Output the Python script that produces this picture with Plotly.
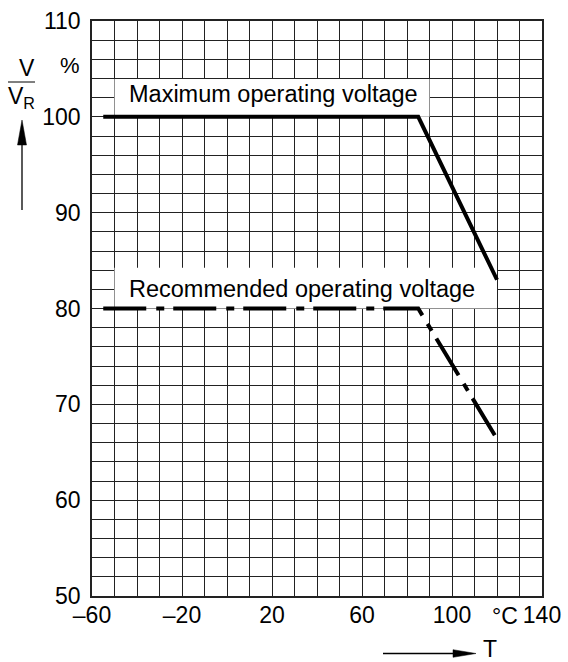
import plotly.graph_objects as go

# Data
temps = [-55, 85, 120]
max_voltage = [100, 100, 83]
rec_voltage = [80, 80, 66.4]

x_grid = list(range(-60, 141, 10))
x_labels = {-60: "–60", -20: "–20", 20: "20", 60: "60", 100: "100", 140: "140"}
y_grid = list(range(50, 111, 2))
y_labels = {50: "50", 60: "60", 70: "70", 80: "80", 90: "90", 100: "100", 110: "110"}

FONT = "Liberation Sans, Arial, sans-serif"

# plot area in page pixels
W, H = 568, 662
PL, PR, PT, PB = 92, 542, 21, 596
PW, PH = PR - PL, PB - PT


def px(x):
    return (x - PL) / PW


def py(y):
    return (PB - y) / PH


fig = go.Figure()
fig.add_trace(go.Scatter(x=temps, y=max_voltage, mode="lines",
                         line=dict(color="black", width=4), showlegend=False,
                         hoverinfo="skip"))
fig.add_trace(go.Scatter(x=temps, y=rec_voltage, mode="lines",
                         line=dict(color="black", width=4, dash="43px,10px,8px,9px"),
                         showlegend=False, hoverinfo="skip"))

# white label boxes (cover grid, below traces)
fig.add_shape(type="rect", x0=-50, x1=90, y0=100, y1=103.95, xref="x", yref="y",
              fillcolor="white", line_width=0, layer="between")
fig.add_shape(type="rect", x0=-50, x1=120, y0=80, y1=84.25, xref="x", yref="y",
              fillcolor="white", line_width=0, layer="between")

fig.add_annotation(x=-44.5, y=102.4, xref="x", yref="y", text="Maximum operating voltage",
                   showarrow=False, xanchor="left", yanchor="middle",
                   font=dict(family=FONT, size=23.5, color="black"))
fig.add_annotation(x=-44.5, y=82.0, xref="x", yref="y", text="Recommended operating voltage",
                   showarrow=False, xanchor="left", yanchor="middle",
                   font=dict(family=FONT, size=23.5, color="black"))

# "%" and "°C" unit labels
fig.add_annotation(x=px(82), y=105.4, xref="paper", yref="y", text="%",
                   showarrow=False, xanchor="right", yanchor="middle",
                   font=dict(family=FONT, size=22, color="black"))
fig.add_annotation(x=px(505), y=py(616), xref="paper", yref="paper", text="°C",
                   showarrow=False, xanchor="center", yanchor="middle",
                   font=dict(family=FONT, size=23, color="black"))

# Y axis title: V / V_R with upward arrow
fig.add_annotation(x=px(26.5), y=py(67.5), xref="paper", yref="paper",
                   text="V", showarrow=False, xanchor="center", yanchor="middle",
                   font=dict(family=FONT, size=23, color="black"))
fig.add_annotation(x=px(21.5), y=py(98), xref="paper", yref="paper",
                   text="V<sub>R</sub>", showarrow=False, xanchor="center", yanchor="middle",
                   font=dict(family=FONT, size=23, color="black"))
fig.add_shape(type="line", xref="paper", yref="paper",
              x0=px(8), x1=px(35), y0=py(82), y1=py(82),
              line=dict(color="black", width=1))
# vertical arrow shaft + head
fig.add_shape(type="line", xref="paper", yref="paper",
              x0=px(22), x1=px(22), y0=py(210), y1=py(138),
              line=dict(color="black", width=1.3))
fig.add_shape(type="path", xref="paper", yref="paper",
              xsizemode="pixel", ysizemode="pixel",
              xanchor=px(22), yanchor=py(120),
              path="M0,0 L-4.5,-25 L4.5,-25 Z",
              fillcolor="black", line=dict(color="black", width=0.5))

# X axis title: arrow and T
fig.add_shape(type="line", xref="paper", yref="paper",
              x0=px(383), x1=px(458), y0=py(653.5), y1=py(653.5),
              line=dict(color="black", width=1.3))
fig.add_shape(type="path", xref="paper", yref="paper",
              xsizemode="pixel", ysizemode="pixel",
              xanchor=px(476), yanchor=py(653.5),
              path="M0,0 L-23,3.8 L-23,-3.8 Z",
              fillcolor="black", line=dict(color="black", width=0.5))
fig.add_annotation(x=px(490), y=py(649), xref="paper", yref="paper",
                   text="T", showarrow=False, xanchor="center", yanchor="middle",
                   font=dict(family=FONT, size=23, color="black"))

fig.update_layout(
    width=W, height=H,
    margin=dict(l=PL, r=W - PR, t=PT, b=H - PB, pad=0, autoexpand=False),
    paper_bgcolor="white", plot_bgcolor="white",
    font=dict(family=FONT, size=23, color="black"),
    xaxis=dict(range=[-60, 140], tickmode="array", tickvals=x_grid,
               ticktext=[x_labels.get(v, "") for v in x_grid],
               showgrid=True, gridcolor="#222", gridwidth=1, zeroline=False,
               showline=True, linecolor="#222", linewidth=1.5, mirror=True,
               ticks="", ticklabelstandoff=-2, automargin=False,
               ticklabeloverflow="allow",
               tickfont=dict(family=FONT, size=23, color="black")),
    yaxis=dict(range=[50, 110], tickmode="array", tickvals=y_grid,
               ticktext=[y_labels.get(v, "") for v in y_grid],
               showgrid=True, gridcolor="#222", gridwidth=1, zeroline=False,
               showline=True, linecolor="#222", linewidth=1.5, mirror=True,
               ticks="", ticklabelstandoff=5, automargin=False,
               ticklabeloverflow="allow",
               tickfont=dict(family=FONT, size=23, color="black")),
)

fig.write_html("out.html", config={"displayModeBar": False},
               post_script="document.body.style.margin='0';document.body.style.overflow='hidden';")
